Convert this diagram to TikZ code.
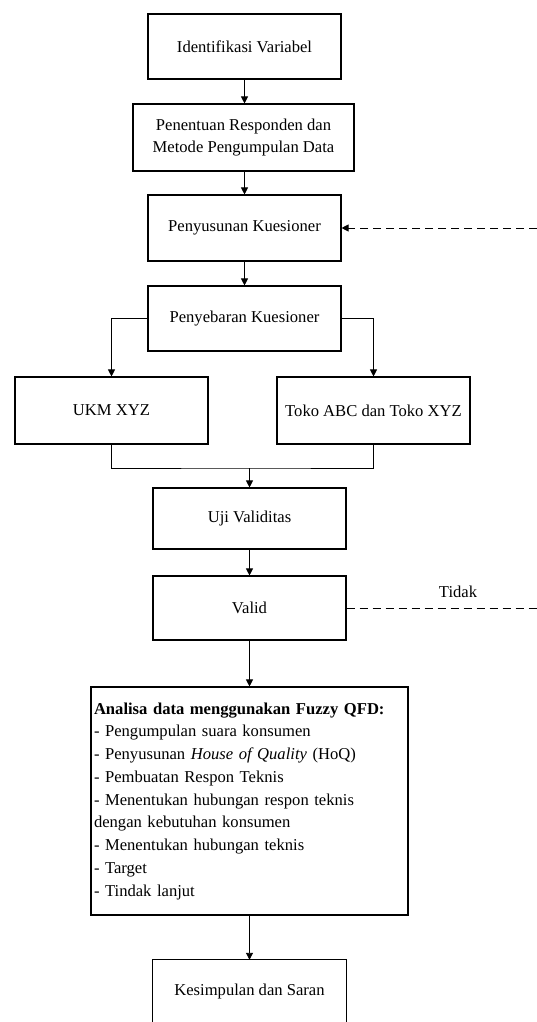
\documentclass[tikz,border=0pt]{standalone}
\usepackage{fontspec}
\setmainfont{Liberation Serif}
\usetikzlibrary{arrows.meta}
\begin{document}
\begin{tikzpicture}[x=1pt,y=-1pt,
  txt/.style={font=\fontsize{16.6}{21.5}\selectfont},
  box/.style={txt, draw, line width=1.1pt, minimum width=193pt, inner sep=2pt, align=center},
  edge/.style={line width=0.9pt},
  arr/.style={edge, -{Triangle[length=7pt,width=7pt]}},
  dashline/.style={edge, dash pattern=on 8pt off 5pt}]
\useasboundingbox (0,0) rectangle (537,1022);
\node[box, minimum height=65pt] (b1) at (244.5,46.5) {Identifikasi Variabel};
\node[box, minimum width=221pt, minimum height=67pt] (b2) at (243.5,137.5) {Penentuan Responden dan\\Metode Pengumpulan Data};
\node[box, minimum height=66pt] (b3) at (244.5,228) {Penyusunan Kuesioner};
\node[box, minimum height=65pt] (b4) at (244.5,318.5) {Penyebaran Kuesioner};
\node[box, minimum height=67pt] (ukm) at (111.5,410.5) {UKM XYZ};
\node[box, minimum height=67pt] (toko) at (373.5,410.5) {Toko ABC dan Toko XYZ};
\node[box, minimum height=61pt] (uji) at (249.5,518.5) {Uji Validitas};
\node[box, minimum height=64pt] (valid) at (249.5,608) {Valid};
\node[box, minimum width=317pt, minimum height=228pt, text width=311pt, align=left,
      font=\fontsize{16.6}{22.75}\selectfont] (ana) at (249.5,801)
 {\textbf{Analisa data menggunakan Fuzzy QFD:}\\
  - Pengumpulan suara konsumen\\
  - Penyusunan \textit{House of Quality} (HoQ)\\
  - Pembuatan Respon Teknis\\
  - Menentukan hubungan respon teknis\\
  dengan kebutuhan konsumen\\
  - Menentukan hubungan teknis\\
  - Target\\
  - Tindak lanjut};
\node[txt, minimum width=193pt, minimum height=62pt, inner sep=2pt] (kes) at (249.5,991) {Kesimpulan dan Saran};
\draw[line width=1.1pt] (kes.south west) -- (kes.north west) -- (kes.north east) -- (kes.south east);
\node[txt] (tidak) at (458,592) {Tidak};
% connectors
\draw[arr] (b1.south) -- (b1.south |- b2.north);
\draw[arr] (b2.south -| b1.south) -- (b3.north);
\draw[arr] (b3.south) -- (b4.north);
\draw[arr] (b4.west) -| (ukm.north);
\draw[arr] (b4.east) -| (toko.north);
\coordinate (j) at (uji.north |- 0,468);
\draw[edge] (ukm.south) |- (j) -| (toko.south);
\draw[arr] (j) -- (uji.north);
\draw[arr] (uji.south) -- (valid.north);
\draw[arr] (valid.south) -- (ana.north);
\draw[arr] (ana.south) -- (kes.north);
\coordinate (r1) at (537,228);
\coordinate (r2) at (537,608);
\draw[dashline, -{Triangle[length=7pt,width=7pt]}] (r1) -- (b3.east);
\draw[dashline] (valid.east) -- (r2);
\end{tikzpicture}
\end{document}
